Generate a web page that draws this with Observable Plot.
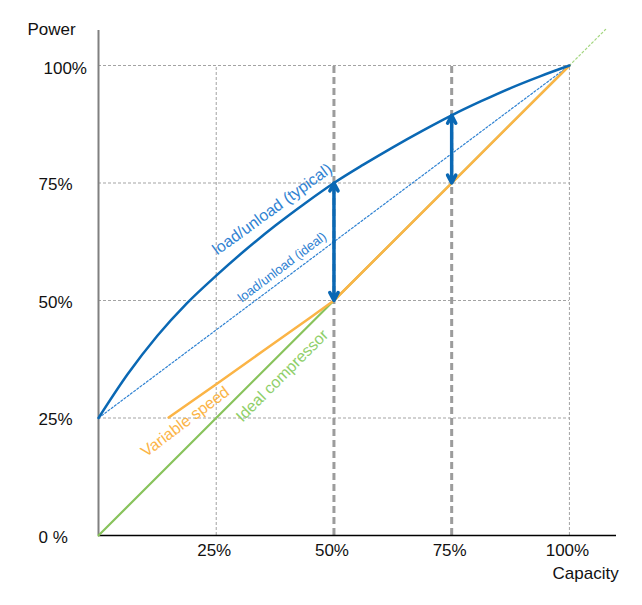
<!DOCTYPE html>
<html><head><meta charset="utf-8">
<script src="https://cdn.jsdelivr.net/npm/d3@7"></script>
<script src="https://cdn.jsdelivr.net/npm/@observablehq/plot@0.6"></script>
<style>body{margin:0;background:#fff}</style>
</head><body><div id="chart"></div>
<script>
// ---- data ----
const capacityTicks = [0.25, 0.5, 0.75, 1];
const capacityTickLabels = ["25%", "50%", "75%", "100%"];
const powerTicks = [0, 0.25, 0.5, 0.75, 1];
const powerTickLabels = ["0 %", "25%", "50%", "75%", "100%"];
const thinGridCapacity = [0.25, 1];
const highlightCapacity = [0.5, 0.75];

const typicalCapacity = [0, 0.0625, 0.125, 0.1875, 0.25, 0.3125, 0.375, 0.4375, 0.5, 0.5625, 0.625, 0.6875, 0.75, 0.8125, 0.875, 0.9375, 1];
const typicalPower    = [0.25, 0.344, 0.425, 0.494, 0.553, 0.608, 0.659, 0.706, 0.75, 0.789, 0.826, 0.861, 0.894, 0.924, 0.952, 0.977, 1];
const idealLoadCapacity = [0, 1];
const idealLoadPower    = [0.25, 1];
const variableCapacity = [0.149, 0.25, 0.35, 0.45, 0.5, 0.75, 1];
const variablePower    = [0.251, 0.322, 0.393, 0.464, 0.5, 0.75, 1];
const idealCompCapacity = [0, 1];
const idealCompPower    = [0, 1];
const idealCompExtCapacity = [1, 1.077];
const idealCompExtPower    = [1, 1.077];
const arrowCapacity = [0.5, 0.75];
const arrowLow  = [0.5, 0.75];
const arrowHigh = [0.75, 0.894];

const labelTexts = ["load/unload (typical)", "load/unload (ideal)", "Variable speed", "Ideal compressor"];
const labelCapacity = [0.369, 0.390, 0.184, 0.390];
const labelPower    = [0.694, 0.571, 0.242, 0.340];

// ---- build tables ----
const zip = (xs, ys) => xs.map((x, i) => ({x, y: ys[i]}));
const typical = zip(typicalCapacity, typicalPower);
const idealLoad = zip(idealLoadCapacity, idealLoadPower);
const variable = zip(variableCapacity, variablePower);
const idealComp = zip(idealCompCapacity, idealCompPower);
const idealCompExt = zip(idealCompExtCapacity, idealCompExtPower);
const arrows = arrowCapacity.map((x, i) => ({x, lo: arrowLow[i], hi: arrowHigh[i], mid: (arrowLow[i] + arrowHigh[i]) / 2}));
const powerTickRows = powerTicks.map((v, i) => ({v, t: powerTickLabels[i]}));
const capTickRows = capacityTicks.map((v, i) => ({v, t: capacityTickLabels[i]}));
const labels = labelTexts.map((t, i) => ({t, x: labelCapacity[i], y: labelPower[i]}));

const BLUE = "#0a68b4", BLUE_LIGHT = "#2f82d2", ORANGE = "#fbb446", GREEN = "#88c35c", GREEN_TEXT = "#8fcf6a";
const GRID = "#a3a3a3";
const FONT = "'Liberation Sans', Arial, sans-serif";

const chart = Plot.plot({
  width: 642, height: 605,
  marginLeft: 98, marginRight: 26, marginTop: 30, marginBottom: 70,
  x: {domain: [0, 1.1], axis: null},
  y: {domain: [0, 1.0745], axis: null},
  style: {fontFamily: FONT, background: "#fff"},
  marks: [
    // grid
    Plot.ruleY(powerTicks.filter(d => d > 0), {y: d => d, x1: 0, x2: 1, stroke: GRID, strokeWidth: 1, strokeDasharray: "3,2"}),
    Plot.ruleX(thinGridCapacity, {x: d => d, y1: 0, y2: 1, stroke: GRID, strokeWidth: 1, strokeDasharray: "3,2"}),
    Plot.ruleX(highlightCapacity, {x: d => d, y1: 0, y2: 1, stroke: "#9c9c9c", strokeWidth: 3, strokeDasharray: "7,4"}),
    // axis lines
    Plot.ruleX([0], {stroke: "#808080", strokeWidth: 2}),
    Plot.ruleY([0], {stroke: "#000", strokeWidth: 1.5}),
    // series
    Plot.line(idealComp, {x: "x", y: "y", stroke: GREEN, strokeWidth: 2.2}),
    Plot.line(idealCompExt, {x: "x", y: "y", stroke: "#a5d782", strokeWidth: 1.2, strokeDasharray: "2,2.5"}),
    Plot.line(idealLoad, {x: "x", y: "y", stroke: BLUE_LIGHT, strokeWidth: 1.2, strokeDasharray: "2,2"}),
    Plot.line(variable, {x: "x", y: "y", stroke: ORANGE, strokeWidth: 2.5}),
    Plot.line(typical, {x: "x", y: "y", stroke: BLUE, strokeWidth: 2.5, curve: "monotone-x"}),
    // double arrows
    Plot.arrow(arrows, {x1: "x", y1: "mid", x2: "x", y2: "hi", stroke: BLUE, strokeWidth: 3.5, headLength: 3.8, headAngle: 55}),
    Plot.arrow(arrows, {x1: "x", y1: "mid", x2: "x", y2: "lo", stroke: BLUE, strokeWidth: 3.5, headLength: 3.8, headAngle: 55}),
    // series labels
    Plot.text([labels[0]], {x: "x", y: "y", text: "t", rotate: -36, fill: BLUE_LIGHT, fontSize: 16}),
    Plot.text([labels[1]], {x: "x", y: "y", text: "t", rotate: -37, fill: BLUE_LIGHT, fontSize: 13}),
    Plot.text([labels[2]], {x: "x", y: "y", text: "t", rotate: -37, fill: ORANGE, fontSize: 16}),
    Plot.text([labels[3]], {x: "x", y: "y", text: "t", rotate: -45, fill: GREEN_TEXT, fontSize: 16}),
    // tick labels
    Plot.text(powerTickRows.filter(d => d.v < 1), {y: "v", text: "t", frameAnchor: "left", textAnchor: "start", dx: -60, dy: 2, fontSize: 17, fill: "#111"}),
    Plot.text(powerTickRows.filter(d => d.v === 1), {y: "v", text: "t", frameAnchor: "left", textAnchor: "start", dx: -55, dy: 3, fontSize: 17, fill: "#111"}),
    Plot.text(capTickRows, {x: "v", text: "t", frameAnchor: "bottom", dy: 20, dx: -2, fontSize: 17, fill: "#111"}),
    // axis titles
    Plot.text(["Power"], {text: d => d, frameAnchor: "top-left", textAnchor: "start", dx: -71, dy: -8, fontSize: 17, fill: "#111"}),
    Plot.text(["Capacity"], {text: d => d, frameAnchor: "bottom-right", textAnchor: "start", dx: -64, dy: 43, fontSize: 17, fill: "#111"})
  ]
});
document.getElementById("chart").appendChild(chart);
</script>
</body></html>
